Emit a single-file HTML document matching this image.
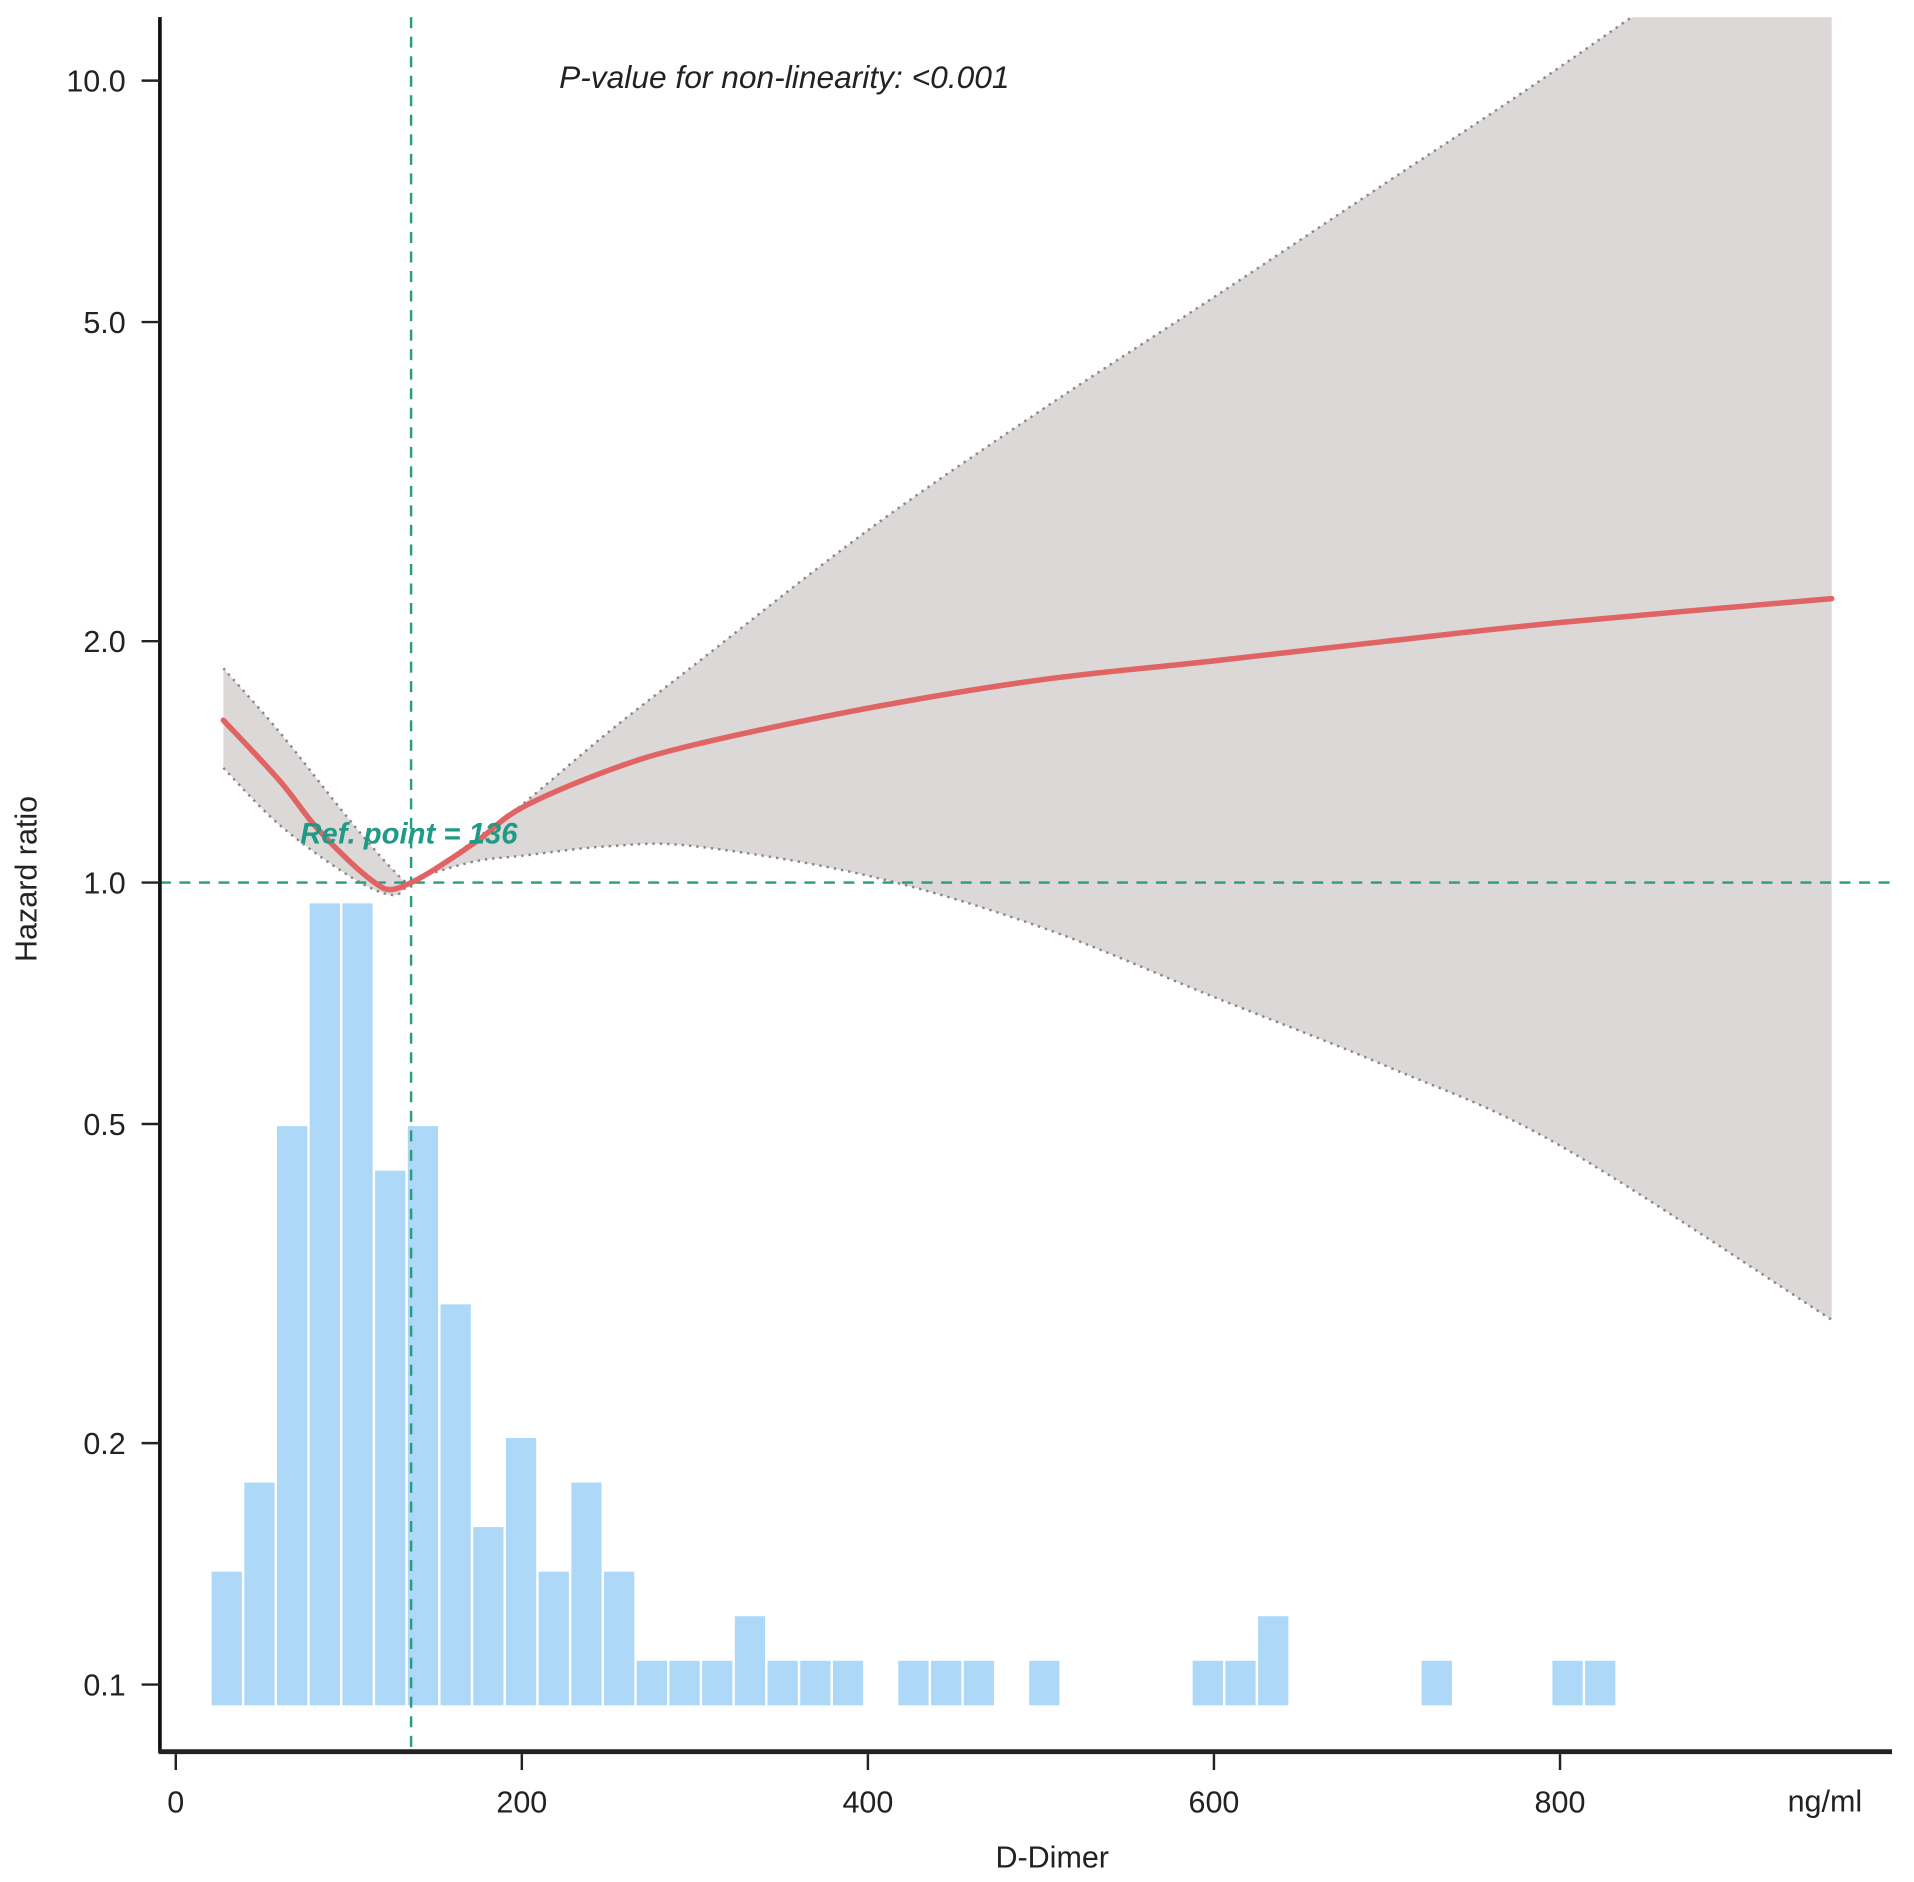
<!DOCTYPE html>
<html><head><meta charset="utf-8"><style>
html,body{margin:0;padding:0;background:#fff;}
svg{display:block;font-family:"Liberation Sans",Arial,sans-serif;}
</style></head><body>
<svg id="chart" width="1914" height="1882" viewBox="0 0 1568 1541.7" xmlns="http://www.w3.org/2000/svg"></svg>
<script>
const binStart = 20, binWidth = 18.9;
const binCounts = [3,5,13,18,18,12,13,9,4,6,3,5,3,1,1,1,2,1,1,1,0,1,1,1,0,1,0,0,0,0,1,1,2,0,0,0,0,1,0,0,0,1,1];
const curveX = [27.5,60,80,100,115,124,136,150,175,200,250,300,400,500,600,700,800,957];
const curveHR = [1.594,1.34,1.18,1.065,1.0,0.98,1.0,1.04,1.13,1.24,1.38,1.486,1.65,1.79,1.89,2.0,2.11,2.26];
const ciX = [27.5,60,100,125,136,150,175,200,250,300,400,500,600,700,800,957];
const ciUpper = [1.85,1.54,1.2,1.04,1.0,1.04,1.14,1.25,1.54,1.87,2.75,3.88,5.37,7.47,10.4,18];
const ciLower = [1.39,1.18,1.02,0.965,1.0,1.03,1.065,1.08,1.11,1.11,1.02,0.88,0.72,0.59,0.47,0.285];
const yTicks = [10,5,2,1,0.5,0.2,0.1];
const yTickLabels = ["10.0","5.0","2.0","1.0","0.5","0.2","0.1"];
const xTicks = [0,200,400,600,800];
const refPoint = 136;

const NS="http://www.w3.org/2000/svg";
const svg=document.getElementById('chart');
const X=v=>144+v*1.4175;
const Y=hr=>723-657*Math.log10(hr);
const TOP=14, BOT=1435, LEFT=131, RIGHT=1550;
function mk(tag,attrs,parent){const e=document.createElementNS(NS,tag);for(const k in attrs)e.setAttribute(k,attrs[k]);(parent||svg).appendChild(e);return e;}
function smooth(pts){
  let d='M'+pts[0][0]+','+pts[0][1];
  for(let i=0;i<pts.length-1;i++){
    const p0=pts[Math.max(0,i-1)],p1=pts[i],p2=pts[i+1],p3=pts[Math.min(pts.length-1,i+2)];
    const c1=[p1[0]+(p2[0]-p0[0])/6,p1[1]+(p2[1]-p0[1])/6];
    const c2=[p2[0]-(p3[0]-p1[0])/6,p2[1]-(p3[1]-p1[1])/6];
    d+='C'+c1.join(',')+' '+c2.join(',')+' '+p2.join(',');
  }
  return d;
}

const defs=mk('defs',{});
const cp=mk('clipPath',{id:'plotclip'},defs);
mk('rect',{x:LEFT,y:TOP,width:RIGHT-LEFT,height:BOT-TOP},cp);

const upPts=ciX.map((x,i)=>[X(x),Y(ciUpper[i])]);
const loPts=ciX.map((x,i)=>[X(x),Y(ciLower[i])]);
const loRev=loPts.slice().reverse();
const bandD=smooth(upPts)+'L'+smooth(loRev).slice(1)+'Z';
const band=mk('path',{d:bandD,fill:'#dcd8d8',stroke:'none','clip-path':'url(#plotclip)'});


const upl=mk('path',{d:smooth(upPts),fill:'none',stroke:'#888','stroke-width':2,'stroke-dasharray':'2,4','clip-path':'url(#plotclip)'});


const lol=mk('path',{d:smooth(loPts),fill:'none',stroke:'#888','stroke-width':2,'stroke-dasharray':'2,4'});



const BASE=1397, PER=36.5;
binCounts.forEach((c,i)=>{
  if(!c)return;
  const r=mk('rect',{x:X(binStart+i*binWidth)+1,y:BASE-c*PER,width:binWidth*1.4175-2,height:c*PER,fill:'#aed8f8'});
  
  
});

const hl=mk('line',{x1:LEFT,x2:RIGHT,y1:Y(1),y2:Y(1),stroke:'#2a9a80','stroke-width':2,'stroke-dasharray':'9,7'});


const vl=mk('line',{x1:X(refPoint),x2:X(refPoint),y1:TOP,y2:BOT,stroke:'#2a9a80','stroke-width':2,'stroke-dasharray':'9,7'});



const cv=mk('path',{d:smooth(curveX.map((x,i)=>[X(x),Y(curveHR[i])])),fill:'none',stroke:'#e06464','stroke-width':4.5,'stroke-linejoin':'round','stroke-linecap':'round'});



const ya=mk('line',{x1:LEFT,x2:LEFT,y1:TOP,y2:BOT+1,stroke:'#111','stroke-width':3});


const xa=mk('line',{x1:LEFT-1,x2:RIGHT,y1:BOT,y2:BOT,stroke:'#222','stroke-width':4});



yTicks.forEach((t,i)=>{
  mk('line',{x1:LEFT-15,x2:LEFT,y1:Y(t),y2:Y(t),stroke:'#222','stroke-width':2});
  const tx=mk('text',{x:LEFT-28,y:Y(t)+9,'text-anchor':'end','font-size':25,fill:'#222'});
  tx.textContent=yTickLabels[i];
  
  
});
xTicks.forEach(t=>{
  mk('line',{x1:X(t),x2:X(t),y1:BOT+2,y2:BOT+15,stroke:'#222','stroke-width':2});
  const tx=mk('text',{x:X(t),y:BOT+50,'text-anchor':'middle','font-size':25,fill:'#222'});
  tx.textContent=String(t);
  
  
});
</script>
<svg style="position:absolute;left:0;top:0" width="1914" height="1882" viewBox="0 0 1568 1541.7" xmlns="http://www.w3.org/2000/svg">
<text x="1495" y="1484" text-anchor="middle" font-size="25" fill="#222" font-family="Liberation Sans, sans-serif">ng/ml</text>
<text x="862" y="1530" text-anchor="middle" font-size="25" fill="#222" font-family="Liberation Sans, sans-serif">D-Dimer</text>
<text transform="translate(30,720) rotate(-90)" text-anchor="middle" font-size="25" fill="#222" font-family="Liberation Sans, sans-serif">Hazard ratio</text>
<text x="458" y="72" font-size="26" font-style="italic" fill="#222" font-family="Liberation Sans, sans-serif">P-value for non-linearity: &lt;0.001</text>
<text x="246" y="691" font-size="24" font-style="italic" font-weight="bold" fill="#1f9a86" font-family="Liberation Sans, sans-serif">Ref. point = 136</text>
</svg>
</body></html>
